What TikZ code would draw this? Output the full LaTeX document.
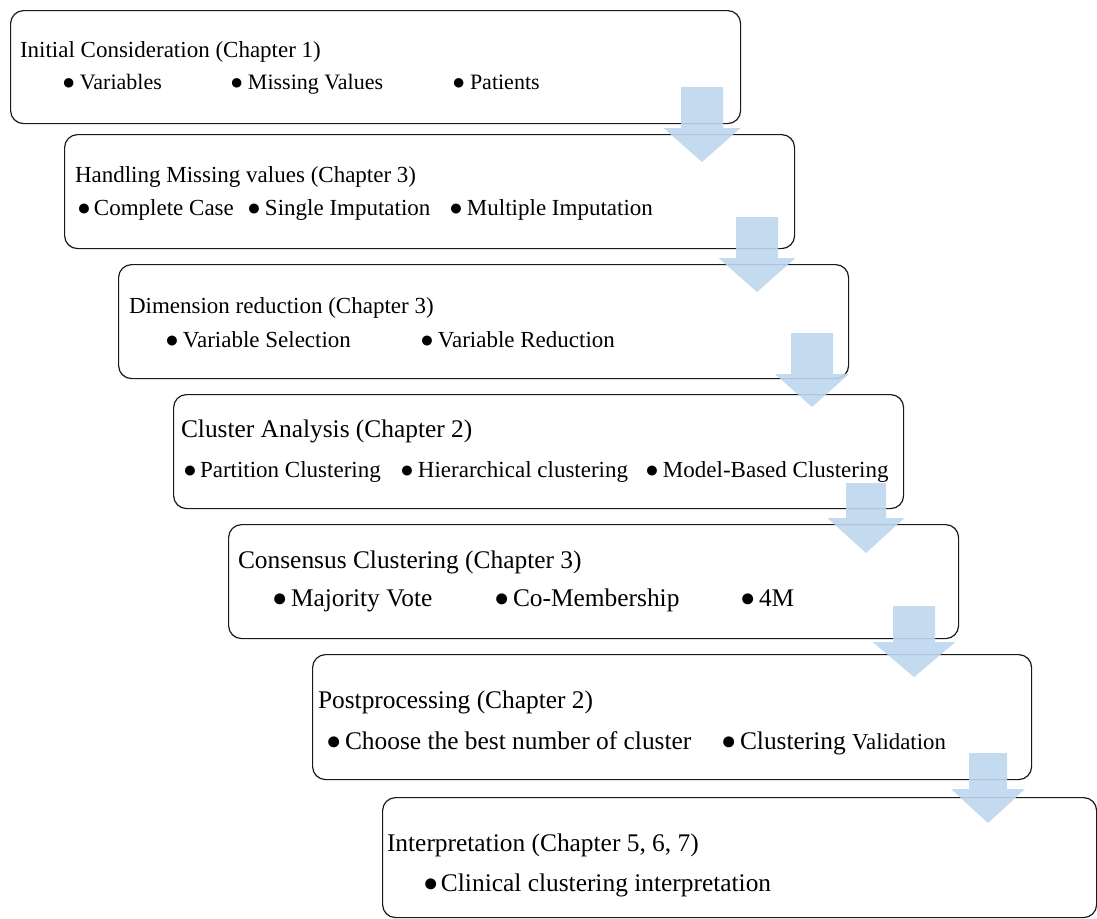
\documentclass[tikz,border=0pt]{standalone}
\usepackage{fontspec}
\setmainfont{Liberation Serif}
\definecolor{arrowblue}{RGB}{189,214,238}
\newcommand{\fsS}{\fontsize{22}{26}\selectfont}
\newcommand{\fsA}{\fontsize{23}{27}\selectfont}
\newcommand{\fsB}{\fontsize{25.4}{29}\selectfont}
\newcommand{\itm}[2][18pt]{\makebox[#1][l]{●}#2}
\newcommand{\blockarrow}[6]{%
  \path[arrowfill] (#1-#5,#2) -- (#1+#5,#2) -- (#1+#5,#3) -- (#1+#6,#3)
    -- (#1,#4) -- (#1-#6,#3) -- (#1-#5,#3) -- cycle;}
\tikzset{
  stepbox/.style={draw=black!90, line width=1.2pt, rounded corners=13pt, fill=white, anchor=north west, inner sep=0pt},
  txt/.style={anchor=base west, inner sep=0pt, outer sep=0pt},
  arrowfill/.style={fill=arrowblue, opacity=0.9},
}
\begin{document}
\begin{tikzpicture}[x=1pt,y=-1pt]
\useasboundingbox (0,0) rectangle (1097,918);
% boxes
\node[stepbox, minimum width=730pt, minimum height=113pt] (b1) at (10,10) {};
\node[stepbox, minimum width=730pt, minimum height=114pt] (b2) at (64,134) {};
\node[stepbox, minimum width=730pt, minimum height=114pt] (b3) at (118,264) {};
\node[stepbox, minimum width=730pt, minimum height=114pt] (b4) at (173,394) {};
\node[stepbox, minimum width=730pt, minimum height=114pt] (b5) at (228,524) {};
\node[stepbox, minimum width=719pt, minimum height=125pt] (b6) at (312,654) {};
\node[stepbox, minimum width=714pt, minimum height=120pt] (b7) at (382,797) {};
% box 1
\node[txt, font=\fsA] (t1) at (20,57) {Initial Consideration (Chapter 1)};
\node[txt, font=\fsS] (t1a) at (62,89) {\itm{Variables}};
\node[txt, font=\fsS] (t1b) at (230,89) {\itm{Missing Values}};
\node[txt, font=\fsS] (t1c) at (452,89) {\itm{Patients}};
% box 2
\node[txt, font=\fsA] (t2) at (75,182) {Handling Missing values (Chapter 3)};
\node[txt, font=\fsA] (t2a) at (77,215) {\itm[17pt]{Complete Case}};
\node[txt, font=\fsA] (t2b) at (247,215) {\itm{Single Imputation}};
\node[txt, font=\fsA] (t2c) at (449,215) {\itm{Multiple Imputation}};
% box 3
\node[txt, font=\fsA] (t3) at (129,313) {Dimension reduction (Chapter 3)};
\node[txt, font=\fsA] (t3a) at (165,347) {\itm{Variable Selection}};
\node[txt, font=\fsA] (t3b) at (420,347) {\itm{Variable Reduction}};
% box 4
\node[txt, font=\fsB] (t4) at (181,437) {Cluster Analysis (Chapter 2)};
\node[txt, font=\fsA] (t4a) at (183,477) {\itm[17pt]{Partition Clustering}};
\node[txt, font=\fsA] (t4b) at (400,477) {\itm{Hierarchical clustering}};
\node[txt, font=\fsA] (t4c) at (645,477) {\itm{Model-Based Clustering}};
% box 5
\node[txt, font=\fsB] (t5) at (238,568) {Consensus Clustering (Chapter 3)};
\node[txt, font=\fsB] (t5a) at (272,606) {\itm[19pt]{Majority Vote}};
\node[txt, font=\fsB] (t5b) at (494,606) {\itm[19pt]{Co-Membership}};
\node[txt, font=\fsB] (t5c) at (740,606) {\itm[19pt]{4M}};
% box 6
\node[txt, font=\fsB] (t6) at (318,708) {Postprocessing (Chapter 2)};
\node[txt, font=\fsB] (t6a) at (326,749) {\itm[19pt]{Choose the best number of cluster}};
\node[txt, font=\fsB] (t6b) at (721,749) {\itm[19pt]{Clustering {\fontsize{22.8}{27}\selectfont Validation}}};
% box 7
\node[txt, font=\fsB] (t7) at (387,851) {Interpretation (Chapter 5, 6, 7)};
\node[txt, font=\fsB] (t7a) at (423,891) {\itm{Clinical clustering interpretation}};
% block arrows
\blockarrow{702}{87}{128}{162}{21}{38.5}
\blockarrow{757}{217}{258}{292}{21}{38.5}
\blockarrow{812}{333}{374}{407}{21}{37}
\blockarrow{866}{483}{518}{553}{20}{38.5}
\blockarrow{914}{606}{642}{677}{21}{41.5}
\blockarrow{988}{753}{789}{823}{19}{37}
\end{tikzpicture}
\end{document}
